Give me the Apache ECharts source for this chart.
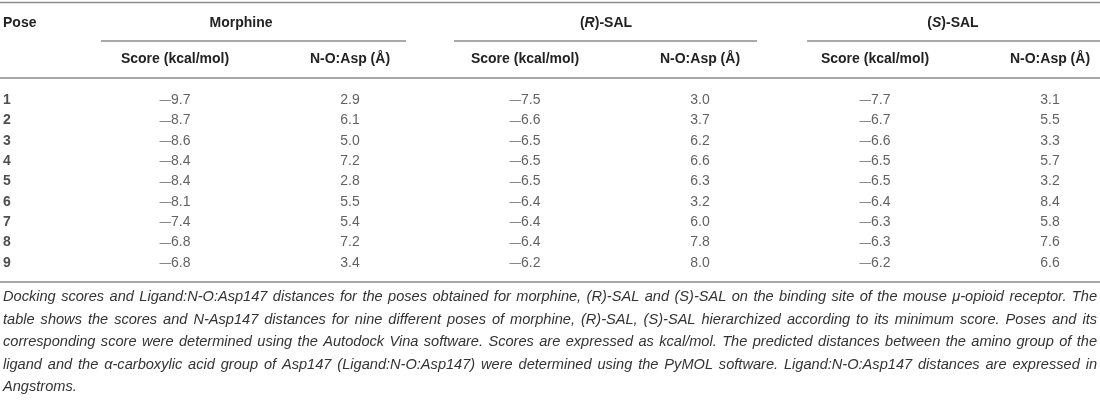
<!DOCTYPE html>
<html>
<head>
<meta charset="utf-8">
<script src="https://cdn.jsdelivr.net/npm/echarts@6/dist/echarts.min.js"></script>
<style>
    html, body { margin: 0; padding: 0; background: #fff; }
    #chart { width: 1100px; height: 400px; }
</style>
</head>
<body>
<div id="chart"></div>
<script>
// 表格数据
const poses = [1, 2, 3, 4, 5, 6, 7, 8, 9];
const morphineScore = [-9.7, -8.7, -8.6, -8.4, -8.4, -8.1, -7.4, -6.8, -6.8];
const morphineDist = [2.9, 6.1, 5.0, 7.2, 2.8, 5.5, 5.4, 7.2, 3.4];
const rSalScore = [-7.5, -6.6, -6.5, -6.5, -6.5, -6.4, -6.4, -6.4, -6.2];
const rSalDist = [3.0, 3.7, 6.2, 6.6, 6.3, 3.2, 6.0, 7.8, 8.0];
const sSalScore = [-7.7, -6.7, -6.6, -6.5, -6.5, -6.4, -6.3, -6.3, -6.2];
const sSalDist = [3.1, 5.5, 3.3, 5.7, 3.2, 8.4, 5.8, 7.6, 6.6];

const groupLabels = ['Morphine', '({i|R})-SAL', '({i|S})-SAL'];
const subLabels = ['Score (kcal/mol)', 'N-O:Asp (Å)'];
const captionLines = [
    'Docking scores and Ligand:N-O:Asp147 distances for the poses obtained for morphine, (R)-SAL and (S)-SAL on the binding site of the mouse \u03bc-opioid receptor. The',
    'table shows the scores and N-Asp147 distances for nine different poses of morphine, (R)-SAL, (S)-SAL hierarchized according to its minimum score. Poses and its',
    'corresponding score were determined using the Autodock Vina software. Scores are expressed as kcal/mol. The predicted distances between the amino group of the',
    'ligand and the \u03b1-carboxylic acid group of Asp147 (Ligand:N-O:Asp147) were determined using the PyMOL software. Ligand:N-O:Asp147 distances are expressed in',
    'Angstroms.'
];

const FONT = '"Liberation Sans", Arial, sans-serif';
const COL_W = 175;       // 每列宽度（像素）
const LINE_COLOR = '#8c8c8c';

// 负号用长破折号显示
function fmt(v) {
    const s = Math.abs(v).toFixed(1);
    return v < 0 ? '{d|\u2014}' + s : s;
}

// 列 1..6 的数据点
const columns = [morphineScore, morphineDist, rSalScore, rSalDist, sSalScore, sSalDist];
const cellData = [];
columns.forEach((col, c) => {
    col.forEach((v, r) => {
        cellData.push([c + 1, poses[r], v]);
    });
});
const poseData = poses.map(p => [3 / COL_W, p, p]);

// 表头与线条
const graphics = [];
function hline(x1, x2, y) {
    graphics.push({
        type: 'line',
        shape: { x1: x1, y1: y, x2: x2, y2: y },
        style: { stroke: LINE_COLOR, lineWidth: 1.5 }
    });
}
function headText(text, x, y, align) {
    graphics.push({
        type: 'text',
        x: x, y: y,
        style: {
            text: text,
            align: align,
            verticalAlign: 'middle',
            font: 'bold 14px ' + FONT,
            fill: '#222',
            rich: {
                i: { font: 'italic bold 14px ' + FONT, fill: '#222' }
            }
        }
    });
}

hline(0, 1100, 2.5);
hline(101, 406, 41);
hline(454, 757, 41);
hline(807, 1100, 41);
hline(0, 1100, 78);
hline(0, 1100, 282);

headText('Pose', 3, 23, 'left');
const groupCenters = [241, 606, 953];
groupLabels.forEach((g, i) => headText(g, groupCenters[i], 23, 'center'));
for (let c = 0; c < 6; c++) {
    headText(subLabels[c % 2], COL_W * (c + 1), 59, 'center');
}

// 图注：两端对齐
const capFont = 'italic 14.6px ' + FONT;
const ctx = document.createElement('canvas').getContext('2d');
ctx.font = capFont;
const capLeft = 3, capRight = 1097;
captionLines.forEach((line, i) => {
    const y = 297 + i * 22.5;
    const words = line.split(' ');
    const last = i === captionLines.length - 1;
    const widths = words.map(w => ctx.measureText(w).width);
    const total = widths.reduce((a, b) => a + b, 0);
    const gap = last || words.length < 2
        ? ctx.measureText(' ').width
        : (capRight - capLeft - total) / (words.length - 1);
    let x = capLeft;
    words.forEach((w, k) => {
        graphics.push({
            type: 'text',
            x: x, y: y,
            style: {
                text: w,
                verticalAlign: 'middle',
                font: capFont,
                fill: '#333'
            }
        });
        x += widths[k] + gap;
    });
});

const chart = echarts.init(document.getElementById('chart'));
chart.setOption({
    animation: false,
    grid: { left: 0, right: 0, top: 79.6, bottom: 116.6 },
    xAxis: { type: 'value', min: 0, max: 1100 / COL_W, show: false },
    yAxis: { type: 'value', min: 0, max: 10, inverse: true, show: false },
    graphic: graphics,
    series: [
        {
            type: 'scatter',
            symbolSize: 1,
            itemStyle: { color: 'rgba(0,0,0,0)' },
            data: cellData,
            label: {
                show: true,
                position: 'inside',
                formatter: p => fmt(p.value[2]),
                fontFamily: FONT,
                fontSize: 14,
                color: '#3a3a3a',
                rich: {
                    d: { fontFamily: FONT, fontSize: 11.5, color: '#3a3a3a' }
                }
            }
        },
        {
            type: 'scatter',
            symbolSize: 1,
            itemStyle: { color: 'rgba(0,0,0,0)' },
            data: poseData,
            label: {
                show: true,
                position: 'inside',
                align: 'left',
                formatter: p => String(p.value[2]),
                fontFamily: FONT,
                fontSize: 14,
                fontWeight: 'bold',
                color: '#222'
            }
        }
    ]
});
</script>
</body>
</html>
